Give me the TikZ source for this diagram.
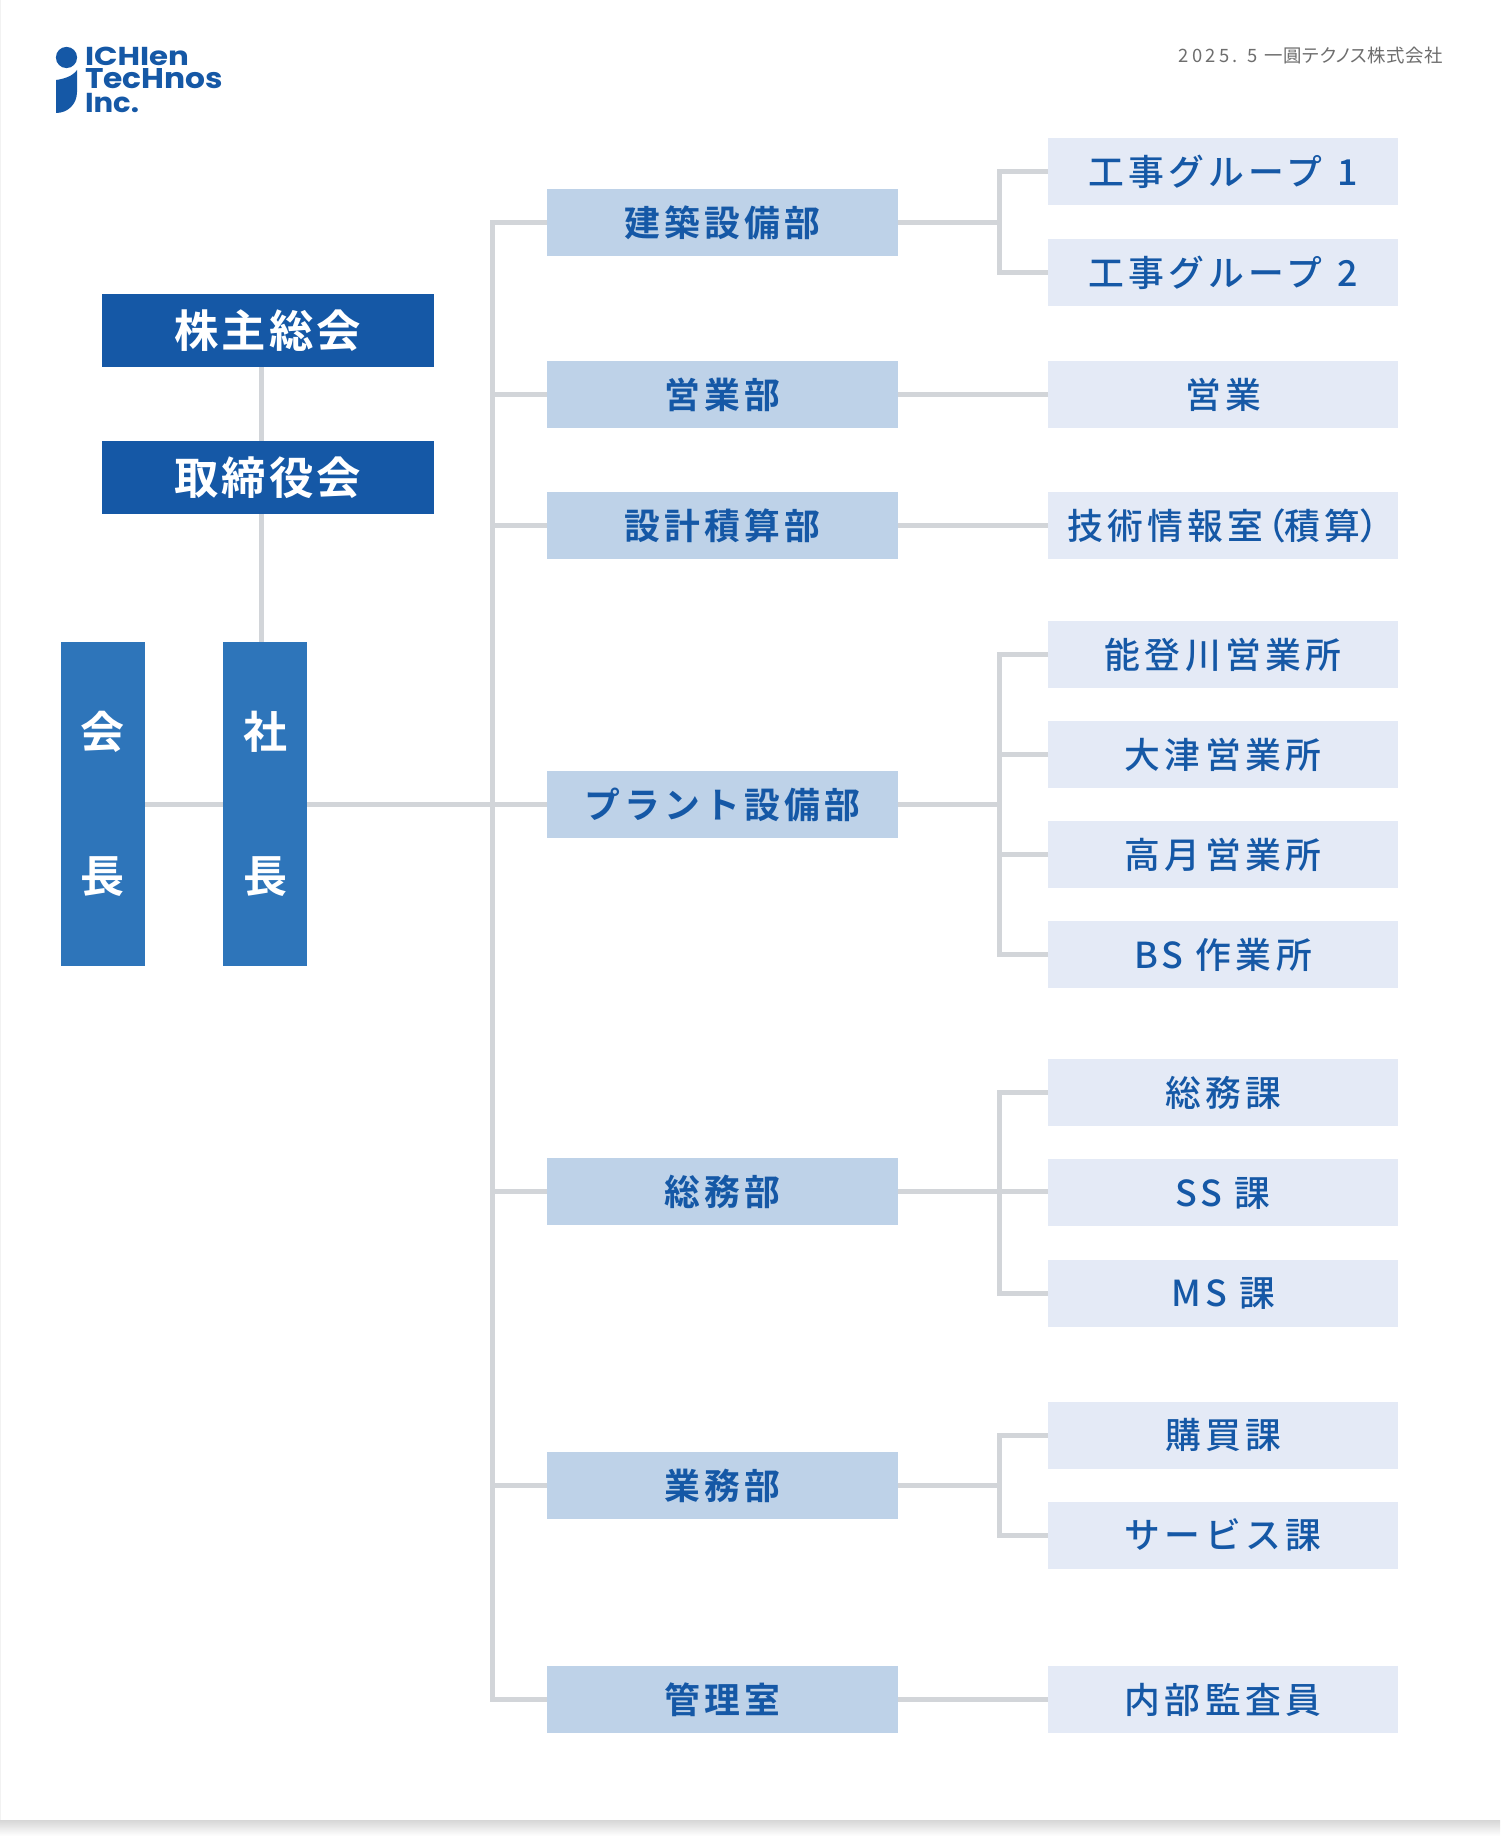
\documentclass[tikz,border=0pt]{standalone}
\usepackage{fontspec}
\usetikzlibrary{backgrounds,shadings}
\setmainfont{Noto Sans CJK JP Medium}[BoldFont={Noto Sans CJK JP Bold},LetterSpace=12]
\newfontfamily\palted{Noto Sans CJK JP Medium}[RawFeature={+palt},LetterSpace=12]
\newfontfamily\topfont{Noto Sans CJK JP Bold}[RawFeature={+palt},LetterSpace=7]
\newfontfamily\headfont{Noto Sans CJK JP}[RawFeature={+palt},LetterSpace=3]
\newfontfamily\headnum{Noto Sans CJK JP}[LetterSpace=18]
\newfontfamily\logofont{Poppins}[BoldFont={Poppins Bold}]
\definecolor{navy}{HTML}{1558A6}
\definecolor{midblue}{HTML}{2E75BA}
\definecolor{deptfill}{HTML}{BED2E8}
\definecolor{subfill}{HTML}{E4EAF6}
\definecolor{linegray}{HTML}{D2D5D9}
\definecolor{headgray}{HTML}{6E6E6E}
\tikzset{
  every node/.style={inner sep=0pt,outer sep=0pt},
  boxbase/.style={minimum height=33.5pt,text=navy,text height=15.7pt,text depth=1.8pt},
  dept/.style={boxbase,minimum width=175.5pt,fill=deptfill,font=\fontsize{17.9}{20}\selectfont\bfseries},
  subunit/.style={boxbase,minimum width=175pt,fill=subfill,font=\fontsize{17.9}{20}\selectfont},
  topbox/.style={fill=navy,text=white,minimum width=166pt,minimum height=36.5pt,font=\fontsize{22.2}{24}\selectfont\topfont,text height=19.5pt,text depth=2.9pt},
  vertbox/.style={fill=midblue,text=white,minimum width=42pt,minimum height=162pt,align=center,font=\fontsize{22}{71.5}\selectfont\topfont},
  link/.style={draw=linegray,line width=2.5pt},
  logotext/.style={anchor=west,text=navy}
}
\begin{document}
\begin{tikzpicture}[x=0.5pt,y=-0.5pt]
\useasboundingbox (0,0) rectangle (1500,1840);
% logo
\fill[navy] (66.5,57.5) circle[radius=10.6];
\fill[navy] (56,80) .. controls (64,79) and (73,76) .. (77,70) -- (77,92) .. controls (77,104) and (68,113) .. (56,113) -- cycle;
\node[logotext] (logoa) at (85,56.5) {\resizebox{52pt}{9.2pt}{\logofont\bfseries ICHIen}};
\node[logotext] (logob) at (85,79) {\resizebox{69pt}{10pt}{\logofont\bfseries TecHnos}};
\node[logotext] (logoc) at (85,103) {\resizebox{27pt}{9.6pt}{\logofont\bfseries Inc.}};
% header
\node[text=headgray,anchor=east,font=\fontsize{9.2}{11}\selectfont] (head) at (1443,56) {{\headnum 2025. 5} {\headfont 一圓テクノス株式会社}};
% top and vertical boxes
\node[topbox] (soukai) at (267.5,331) {株主総会};
\node[topbox] (torishimari) at (267.5,477.5) {取締役会};
\node[vertbox] (kaicho) at (102.5,804) {\raisebox{1.1pt}{会}\\\raisebox{.6pt}{長}};
\node[vertbox] (shacho) at (265,804) {\raisebox{1.1pt}{社}\\\raisebox{.6pt}{長}};
% departments
\node[dept] (d1) at (722.5,222.5) {建築設備部};
\node[dept] (d2) at (722.5,394.5) {営業部};
\node[dept] (d3) at (722.5,525.5) {設計積算部};
\node[dept] (d4) at (722.5,804.5) {プラント設備部};
\node[dept] (d5) at (722.5,1191.5) {総務部};
\node[dept] (d6) at (722.5,1485.5) {業務部};
\node[dept] (d7) at (722.5,1699.5) {管理室};
% sub units
\node[subunit] (s1) at (1223,172) {工事グループ\hspace{1pt} 1\hspace{5pt}};
\node[subunit] (s2) at (1223,272.5) {工事グループ\hspace{1pt} 2\hspace{5pt}};
\node[subunit] (s3) at (1223,394.5) {営業};
\node[subunit] (s4) at (1223,525.5) {技術情報室\hspace{1.5pt}{\palted （}積算{\palted ）}\hspace{1.5pt}};
\node[subunit] (s5) at (1223,654.5) {能登川営業所};
\node[subunit] (s6) at (1223,754.5) {大津営業所};
\node[subunit] (s7) at (1223,854.5) {高月営業所};
\node[subunit] (s8) at (1223,954.5) {BS 作業所};
\node[subunit] (s9) at (1223,1092.5) {総務課};
\node[subunit] (s10) at (1223,1192.5) {SS 課};
\node[subunit] (s11) at (1223,1293) {MS 課};
\node[subunit] (s12) at (1223,1435) {購買課};
\node[subunit] (s13) at (1223,1535) {サービス課};
\node[subunit] (s14) at (1223,1699.5) {内部監査員};
% bus positions
\coordinate (trunk) at (492,0);
\coordinate (busx) at (999,0);
\coordinate (stem) at (261.5,0);
\begin{scope}[on background layer]
  % paper and its shadow
  \shade[top color=black!16,bottom color=white] (0,1820) rectangle (1500,1836);
  \fill[white] (0,0) rectangle (1500,1820);
  \draw[black!5,line width=0.5pt] (0.5,0) -- (0.5,1820);
  \draw[link] (soukai.south -| stem) -- (torishimari.north -| stem);
  \draw[link] (torishimari.south -| stem) -- (shacho.north -| stem);
  \draw[link] (kaicho.east |- d4.west) -- (shacho.west |- d4.west);
  \draw[link] (shacho.east |- d4.west) -- (d4.west);
  \draw[link] (d1.west) -- (d1.west -| trunk) -- (d7.west -| trunk) -- (d7.west);
  \foreach \d in {d2,d3,d5,d6} \draw[link] (\d.west) -- (\d.west -| trunk);
  \draw[link] (d1.east) -- (d1.east -| busx);
  \draw[link] (s1.west) -- (s1.west -| busx) -- (s2.west -| busx) -- (s2.west);
  \draw[link] (d2.east) -- (s3.west);
  \draw[link] (d3.east) -- (s4.west);
  \draw[link] (d4.east) -- (d4.east -| busx);
  \draw[link] (s5.west) -- (s5.west -| busx) -- (s8.west -| busx) -- (s8.west);
  \draw[link] (s6.west) -- (s6.west -| busx);
  \draw[link] (s7.west) -- (s7.west -| busx);
  \draw[link] (d5.east) -- (s10.west |- d5.east);
  \draw[link] (s9.west) -- (s9.west -| busx) -- (s11.west -| busx) -- (s11.west);
  \draw[link] (d6.east) -- (d6.east -| busx);
  \draw[link] (s12.west) -- (s12.west -| busx) -- (s13.west -| busx) -- (s13.west);
  \draw[link] (d7.east) -- (s14.west);
\end{scope}
\end{tikzpicture}
\end{document}
